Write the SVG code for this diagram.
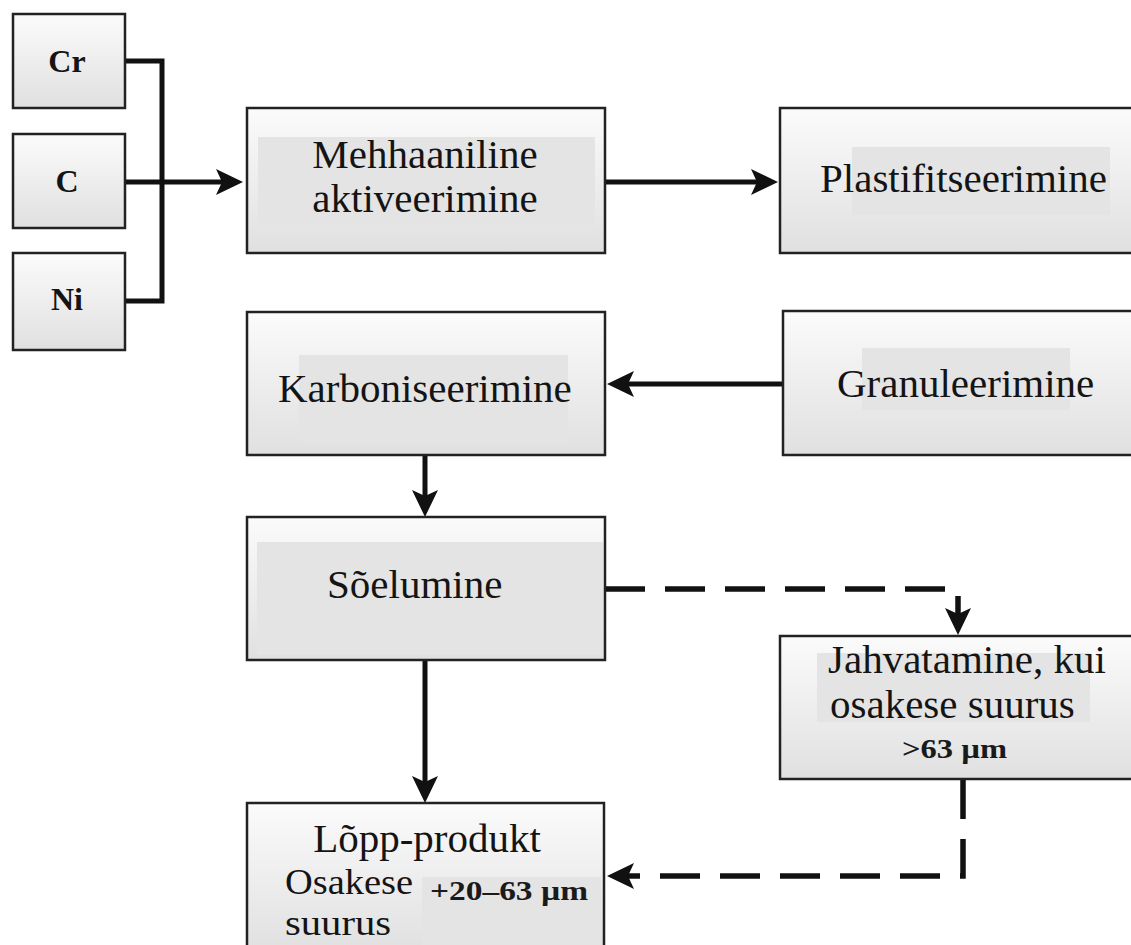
<svg xmlns="http://www.w3.org/2000/svg" width="1131" height="945" viewBox="0 0 1131 945">
<defs>
<linearGradient id="boxfill" x1="0" y1="0" x2="0" y2="1">
<stop offset="0" stop-color="#fbfbfb"/>
<stop offset="1" stop-color="#e0e0e0"/>
</linearGradient>
<marker id="arr" markerUnits="userSpaceOnUse" markerWidth="30" markerHeight="30" refX="21" refY="13" orient="auto" viewBox="0 0 30 30">
<path d="M0,0 L27,13 L0,26 L6,13 z" fill="#111"/>
</marker>
<style>
.box{fill:url(#boxfill);stroke:#222;stroke-width:2.5}
.hl{fill:#e4e4e4}
.t{font-family:"Liberation Serif","Times New Roman",serif;font-size:41px;fill:#141414}
.tm{font-family:"Liberation Serif","Times New Roman",serif;font-size:36px;fill:#141414}
.tb{font-family:"Liberation Serif","Times New Roman",serif;font-size:32px;font-weight:bold;fill:#141414}
.ts{font-family:"Liberation Serif","Times New Roman",serif;font-size:27px;font-weight:bold;fill:#1a1a1a}
.c{fill:none;stroke:#111;stroke-width:5}
.d{fill:none;stroke:#111;stroke-width:5.5;stroke-dasharray:40 20}
</style>
</defs>
<rect width="1131" height="945" fill="#ffffff"/>
<g id="connectors">
<path class="c" d="M125,61 H162 V301 H125" stroke-width="4.5"/>
<path class="c" d="M125,182 H237" marker-end="url(#arr)"/>
<path class="c" d="M605,182 H772" marker-end="url(#arr)"/>
<path class="c" d="M783,384 H613" marker-end="url(#arr)"/>
<path class="c" d="M425,455 V511" marker-end="url(#arr)"/>
<path class="c" d="M425,660 V797" marker-end="url(#arr)"/>
<path class="d" d="M605,589 H958 V629" marker-end="url(#arr)"/>
<path class="d" d="M963,779 V876 H613" marker-end="url(#arr)"/>
</g>
<g id="node-cr">
<rect class="box" x="13" y="14" width="112" height="94"/>
<text class="tb" x="67" y="72" text-anchor="middle">Cr</text>
</g>
<g id="node-c">
<rect class="box" x="13" y="134" width="112" height="94"/>
<text class="tb" x="67" y="192" text-anchor="middle">C</text>
</g>
<g id="node-ni">
<rect class="box" x="13" y="253" width="112" height="97"/>
<text class="tb" x="67" y="310" text-anchor="middle">Ni</text>
</g>
<g id="node-mehhaaniline">
<rect class="box" x="247" y="108" width="358" height="145"/>
<rect class="hl" x="258" y="137" width="337" height="88"/>
<text class="t" x="425" y="168" text-anchor="middle">Mehhaaniline</text>
<text class="t" x="425" y="212" text-anchor="middle">aktiveerimine</text>
</g>
<g id="node-plastifitseerimine">
<rect class="box" x="780" y="108" width="360" height="145"/>
<rect class="hl" x="852" y="147" width="258" height="68"/>
<text class="t" x="820" y="192">Plastifitseerimine</text>
</g>
<g id="node-karboniseerimine">
<rect class="box" x="247" y="312" width="358" height="143"/>
<rect class="hl" x="299" y="355" width="269" height="88"/>
<text class="t" x="278" y="402">Karboniseerimine</text>
</g>
<g id="node-granuleerimine">
<rect class="box" x="783" y="311" width="360" height="144"/>
<rect class="hl" x="862" y="348" width="208" height="62"/>
<text class="t" x="837" y="397">Granuleerimine</text>
</g>
<g id="node-soelumine">
<rect class="box" x="247" y="517" width="358" height="143"/>
<rect class="hl" x="257" y="542" width="346" height="113"/>
<text class="t" x="327" y="598">Sõelumine</text>
</g>
<g id="node-jahvatamine">
<rect class="box" x="780" y="636" width="360" height="143"/>
<rect class="hl" x="817" y="653" width="273" height="69"/>
<text class="t" x="828" y="673">Jahvatamine, kui</text>
<text class="t" x="830" y="718">osakese suurus</text>
<text class="ts" x="902" y="758" textLength="105" lengthAdjust="spacingAndGlyphs">&gt;63 µm</text>
</g>
<g id="node-lopp">
<rect class="box" x="247" y="803" width="357" height="150"/>
<rect class="hl" x="422" y="877" width="179" height="70"/>
<text class="t" x="427" y="852" text-anchor="middle">Lõpp-produkt</text>
<text class="tm" x="285" y="894" textLength="128" lengthAdjust="spacingAndGlyphs">Osakese</text>
<text class="tm" x="285" y="935" textLength="106" lengthAdjust="spacingAndGlyphs">suurus</text>
<text class="ts" x="430" y="900" textLength="158" lengthAdjust="spacingAndGlyphs">+20–63 µm</text>
</g>
</svg>
